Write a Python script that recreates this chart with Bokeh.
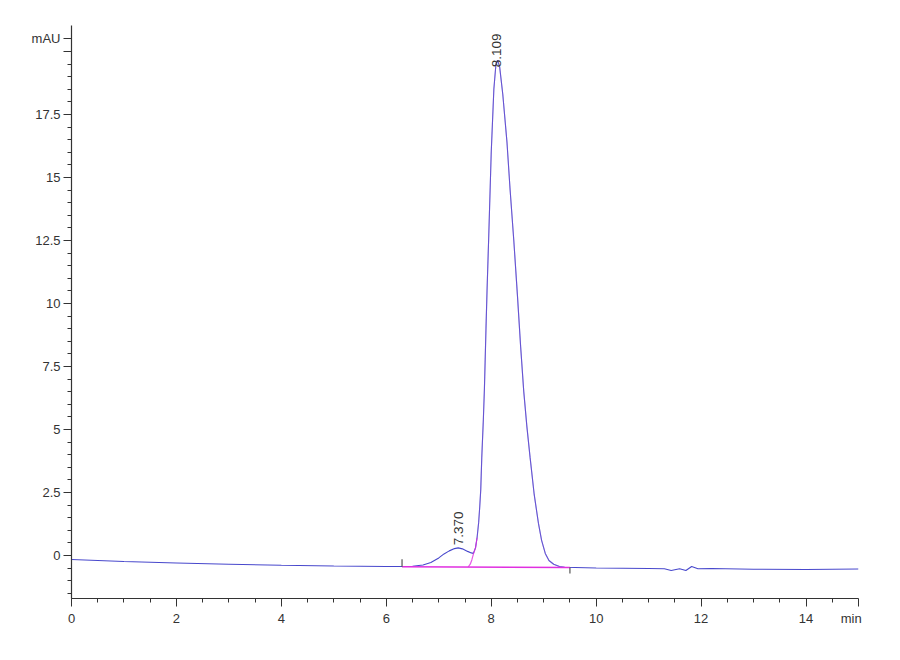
from bokeh.plotting import figure
from bokeh.models import FixedTicker, Range1d
from bokeh.embed import file_html
from bokeh.resources import INLINE
import math

# signal (time in min, mAU)
t = [0, 1, 2, 3, 4, 5, 6, 6.3, 6.5, 6.7, 6.85, 7.0, 7.1, 7.2, 7.3, 7.37, 7.45,
     7.55, 7.62, 7.66, 7.70, 7.73, 7.76, 7.78, 7.80, 7.82, 7.85, 7.87, 7.90,
     7.92, 7.95, 8.0, 8.05, 8.09, 8.12, 8.16, 8.22, 8.30, 8.36, 8.43, 8.50,
     8.56, 8.62, 8.68, 8.74, 8.82, 8.90, 8.96, 9.03, 9.10, 9.19, 9.30, 9.4,
     9.6, 10, 10.5, 11, 11.3, 11.43, 11.59, 11.71, 11.82, 11.94, 12.2, 13,
     14, 15]
mau = [-0.16, -0.24, -0.30, -0.35, -0.39, -0.42, -0.44, -0.44, -0.43, -0.38,
       -0.28, -0.10, 0.06, 0.18, 0.27, 0.30, 0.26, 0.16, 0.10, 0.08, 0.30,
       0.70, 1.30, 1.90, 2.60, 3.90, 5.40, 6.60, 9.00, 10.5, 12.5, 16.0, 18.5,
       19.5, 19.65, 19.4, 18.3, 16.4, 14.5, 12.5, 10.3, 8.3, 6.5, 5.1, 3.9,
       2.4, 1.27, 0.6, 0.08, -0.2, -0.35, -0.44, -0.47, -0.48, -0.50, -0.51,
       -0.52, -0.53, -0.60, -0.53, -0.60, -0.44, -0.53, -0.52, -0.55, -0.56,
       -0.54]

# fitted main peak (magenta) below the valley
fit_t = [7.56, 7.60, 7.63, 7.66, 7.70, 7.73, 7.76, 7.78, 7.80, 7.82, 7.85,
         7.87, 7.90, 7.92, 7.95, 8.0, 8.05, 8.09, 8.12, 8.16, 8.22, 8.30,
         8.36, 8.43, 8.50, 8.56, 8.62, 8.68, 8.74, 8.82, 8.90, 8.96, 9.03,
         9.10, 9.19, 9.30, 9.4]
fit_y = [-0.46, -0.35, -0.18, 0.05, 0.30, 0.70, 1.30, 1.90, 2.60, 3.90, 5.40,
         6.60, 9.00, 10.5, 12.5, 16.0, 18.5, 19.5, 19.65, 19.4, 18.3, 16.4,
         14.5, 12.5, 10.3, 8.3, 6.5, 5.1, 3.9, 2.4, 1.27, 0.6, 0.08, -0.2,
         -0.35, -0.44, -0.47]

# integration baseline and event marks
base_t = [6.3, 9.5]
base_y = [-0.45, -0.48]
mark_y0 = [-0.45, -0.48]
mark_y1 = [-0.15, -0.72]

peak_rt = [7.370, 8.109]
peak_names = ["7.370", "8.109"]
peak_label_y = [0.4, 19.37]

x_ticks = [0, 2, 4, 6, 8, 10, 12, 14, 15]
y_ticks = [0, 2.5, 5, 7.5, 10, 12.5, 15, 17.5, 20, 20.5]

p = figure(width=880, height=640, output_backend="svg", toolbar_location=None,
           x_range=Range1d(0, 15), y_range=Range1d(-1.71, 21.03),
           min_border_left=71, min_border_right=22, min_border_top=25,
           min_border_bottom=42)
p.outline_line_color = None
p.xgrid.visible = False
p.ygrid.visible = False

p.line(t, mau, line_color="#4848cc", line_width=1.1)
# fit overlay: visible below the valley, faint where it follows the signal
p.line(fit_t[:6], fit_y[:6], line_color="#e030e0", line_width=1.2,
       line_alpha=0.8)
p.line(fit_t[5:], fit_y[5:], line_color="#b070e0", line_width=1.1,
       line_alpha=0.3)
p.line(base_t, base_y, line_color="#e030e0", line_width=1.6)
p.segment(x0=base_t, y0=mark_y0, x1=base_t, y1=mark_y1, line_color="#555555",
          line_width=1.2)

p.text(x=peak_rt, y=peak_label_y, text=peak_names, angle=math.pi / 2,
       text_align="left", text_baseline="middle", text_font_size="13.5px",
       text_color="#333333")

p.xaxis.ticker = FixedTicker(ticks=x_ticks,
                             minor_ticks=[i * 0.5 for i in range(30)])
p.xaxis.major_label_overrides = {15: "min\u2007\u2007"}
p.yaxis.ticker = FixedTicker(ticks=y_ticks,
                             minor_ticks=[-1.5 + i * 0.5 for i in range(45)])
p.yaxis.major_label_overrides = {20: "", 20.5: "mAU"}

for ax in (p.xaxis, p.yaxis):
    ax.axis_line_color = "#333333"
    ax.axis_line_width = 1.2
    ax.major_tick_line_color = "#333333"
    ax.minor_tick_line_color = "#333333"
    ax.major_tick_in = 0
    ax.minor_tick_in = 0
    ax.major_label_text_font = "Liberation Sans"
    ax.major_label_text_font_size = "13px"
    ax.major_label_text_color = "#333333"
p.xaxis.major_tick_out = 8
p.xaxis.minor_tick_out = 4
p.yaxis.major_tick_out = 8
p.yaxis.minor_tick_out = 4
p.xaxis.major_label_standoff = 4
p.yaxis.major_label_standoff = 3

open("out.html", "w").write(file_html(p, INLINE))
